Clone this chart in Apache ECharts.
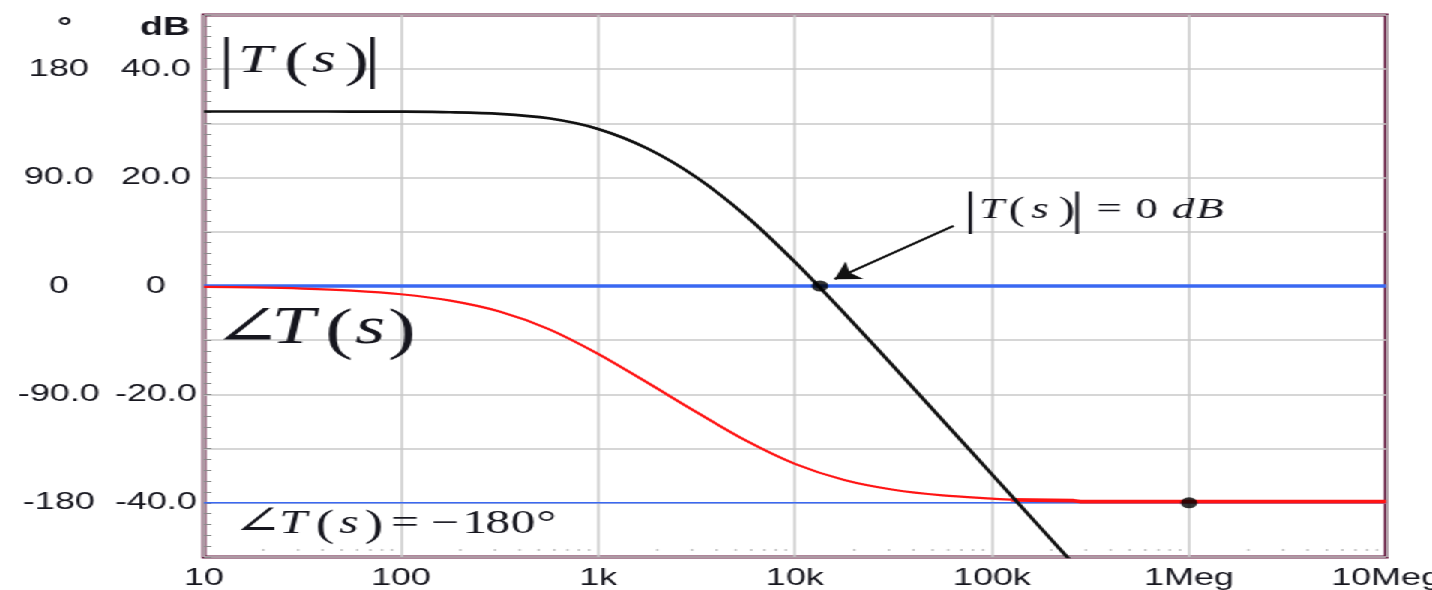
<!DOCTYPE html>
<html>
<head>
<meta charset="utf-8">
<script src="https://cdn.jsdelivr.net/npm/echarts@6/dist/echarts.min.js"></script>
<style>
html,body{margin:0;padding:0;background:#fff;overflow:hidden;width:1432px;height:590px}
#main{width:955px;height:590px;transform-origin:0 0}
</style>
</head>
<body>
<div id="main"></div>
<script>
// ---------------- data ----------------
const freqHz = [10,17.8,31.6,56.2,100,178,316,562,1000,1780,3160,5620,10000,17800,31600,56200,100000,178000,316000];
const magnitudeDb = [32.2,32.2,32.2,32.19,32.16,32.06,31.77,30.94,28.98,25.37,20.05,12.99,4.42,-5.03,-14.82,-24.76,-34.75,-44.76,-54.73];

const phaseFreqHz = [10,17.8,31.6,56.2,100,178,316,562,1000,1780,3160,5620,10000,17800,31600,56200,100000,125000];
const phaseDeg = [-0.69,-1.22,-2.17,-3.86,-6.86,-12.13,-21.15,-35.75,-56.31,-80.27,-104.73,-128.25,-147.72,-161.09,-169.19,-173.9,-176.57,-177.4];

const phaseTailFreqHz = [125000,260000,280000,10000000];
const phaseTailDeg = [-177.6,-178.2,-179.0,-179.0];

const refLevelDb = [0];
const refLevelDeg = [-180];

const crossingPoint = [13400, 0];      // |T(s)| = 0 dB
const phaseMarker = [1000000, -180];   // phase marker
const arrowFrom = [63800, 11.1];       // annotation arrow (Hz, dB)
const arrowTo = [15900, 1.26];

const xTickValues = [10,100,1000,10000,100000,1000000,10000000];
const xTickLabels = ['10','100','1k','10k','100k','1Meg','10Meg'];
const dbTickValues = [-40,-20,0,20,40];
const dbTickLabels = ['-40.0','-20.0','0','20.0','40.0'];
const phaseTickValues = [-180,-90,0,90,180];
const phaseTickLabels = ['-180','-90.0','0','90.0','180'];
const minorMultipliers = [2,3,4,5,6,7,8,9];

// ---------------- layout ----------------
const INNER_W = 955;
const S = 1432 / INNER_W;           // horizontal stretch of the reference
const px = v => v / S;               // reference x -> inner x
const el = document.getElementById('main');
el.style.transform = 'scaleX(' + S + ')';
const chart = echarts.init(el, null, {renderer: 'canvas', width: INNER_W, height: 590});

const labelFont = '"Liberation Sans", Arial, sans-serif';
const mathFont = '"Liberation Serif", "DejaVu Serif", serif';
const textColor = '#16161e';
const gridColor = '#c9c9c9';
const blue = '#3a68f2';

const axisLeft = px(204);

function pick(values, labels) {
  return function (v) {
    for (let i = 0; i < values.length; i++) {
      if (Math.abs(values[i] - v) < 1e-6 * Math.max(1, Math.abs(v))) return labels[i];
    }
    return '';
  };
}
const zip = (a, b) => a.map((v, i) => [v, b[i]]);

const minorDots = [];
xTickValues.slice(0, -1).forEach(d => minorMultipliers.forEach(m => minorDots.push([d * m, -48.7])));

// math annotation glyphs: [text, refX, middleY, fontSize, italic]
const glyphs = [
  ['|', 226.7, 62, 56, false], ['T', 255, 61, 41, true], ['(', 296, 63, 48, false],
  ['s', 324, 61, 41, true], [')', 357, 63, 48, false], ['|', 372.5, 62, 56, false],

  ['\u2220', 247, 330, 56, false], ['T', 293, 329, 52, true], ['(', 339, 333, 56, false],
  ['s', 370, 329, 52, true], [')', 402, 333, 56, false],

  ['|', 970.5, 212, 46, false], ['T', 991.7, 210, 30, true], ['(', 1016.7, 211, 33, false],
  ['s', 1040, 210, 30, true], [')', 1066.7, 211, 33, false], ['|', 1077, 212, 46, false],
  ['=', 1109, 210, 30, false], ['0', 1146.7, 210, 30, false], ['d', 1183, 210, 30, true], ['B', 1210, 210, 30, true],

  ['\u2220', 257.5, 523, 40, false], ['T', 293, 524, 33, true], ['(', 325, 526, 37, false],
  ['s', 349, 524, 33, true], [')', 374, 526, 37, false], ['=', 405, 524, 33, false],
  ['\u2212', 445, 524, 33, false], ['1', 475, 524, 33, false], ['8', 498, 524, 33, false],
  ['0', 523, 524, 33, false], ['\u00B0', 546.5, 524, 33, false]
];

const graphicEls = glyphs.map(g => ({
  type: 'text', silent: true, z: 50,
  x: px(g[1]), y: g[2],
  style: {
    text: g[0], fill: textColor,
    font: (g[4] ? 'italic ' : '') + g[3] + 'px ' + mathFont,
    textAlign: 'center', textVerticalAlign: 'middle'
  }
}));

const option = {
  animation: false,
  backgroundColor: '#ffffff',
  grid: {
    left: axisLeft, right: INNER_W - px(1386), top: 15, bottom: 33,
    containLabel: false, outerBoundsMode: 'none',
    show: true, borderColor: '#5e0f37', borderWidth: 3, backgroundColor: 'transparent'
  },
  xAxis: {
    type: 'log', logBase: 10, min: 10, max: 10000000,
    axisLine: {show: false}, axisTick: {show: false},
    splitLine: {show: true, lineStyle: {color: gridColor, width: 1.5}},
    axisLabel: {
      formatter: pick(xTickValues, xTickLabels),
      fontFamily: labelFont, fontSize: 24, color: textColor, margin: 9,
      showMinLabel: true, showMaxLabel: true
    }
  },
  yAxis: [
    {
      type: 'value', min: -50, max: 50, interval: 10, position: 'left',
      name: 'dB', nameLocation: 'end', nameGap: -13,
      nameTextStyle: {
        fontFamily: labelFont, fontSize: 25, fontWeight: 'bold', color: textColor,
        align: 'center', verticalAlign: 'middle', padding: [0, 2 * (axisLeft - px(165)), 0, 0]
      },
      axisLine: {show: false},
      axisTick: {show: true, inside: true, length: 5, lineStyle: {color: '#8a8a8a', width: 1}},
      minorTick: {show: true, splitNumber: 5, length: 5, lineStyle: {color: '#8a8a8a', width: 1}},
      splitLine: {show: true, lineStyle: {color: gridColor, width: 1.5}},
      axisLabel: {
        formatter: pick(dbTickValues, dbTickLabels),
        fontFamily: labelFont, fontSize: 24, color: textColor,
        align: 'center', margin: axisLeft - px(156)
      }
    },
    {
      type: 'value', min: -225, max: 225, interval: 45, position: 'left', offset: 0,
      name: '\u00B0', nameLocation: 'end', nameGap: -13,
      nameTextStyle: {
        fontFamily: labelFont, fontSize: 25, fontWeight: 'bold', color: textColor,
        align: 'center', verticalAlign: 'middle', padding: [0, 2 * (axisLeft - px(65)), 0, 0]
      },
      axisLine: {show: false}, axisTick: {show: false}, splitLine: {show: false},
      axisLabel: {
        formatter: pick(phaseTickValues, phaseTickLabels),
        fontFamily: labelFont, fontSize: 24, color: textColor,
        align: 'center', margin: axisLeft - px(59)
      }
    }
  ],
  graphic: graphicEls,
  series: [
    {
      name: 'minor', type: 'scatter', yAxisIndex: 0, silent: true, z: 1,
      symbol: 'rect', symbolSize: [1.5, 2], itemStyle: {color: '#b0b0b0'},
      data: minorDots
    },
    {
      name: 'ref0', type: 'line', yAxisIndex: 0, silent: true, z: 2, symbol: 'none',
      lineStyle: {color: blue, width: 3.5},
      data: [[xTickValues[0], refLevelDb[0]], [xTickValues[xTickValues.length - 1], refLevelDb[0]]]
    },
    {
      name: 'ref180', type: 'line', yAxisIndex: 1, silent: true, z: 2, symbol: 'none',
      lineStyle: {color: blue, width: 1.6},
      data: [[xTickValues[0], refLevelDeg[0]], [xTickValues[xTickValues.length - 1], refLevelDeg[0]]]
    },
    {
      name: 'phase', type: 'line', yAxisIndex: 1, silent: true, z: 3, symbol: 'none',
      smooth: 0.3, lineStyle: {color: '#ff1414', width: 2.2},
      data: zip(phaseFreqHz, phaseDeg)
    },
    {
      name: 'phaseTail', type: 'line', yAxisIndex: 1, silent: true, z: 3, symbol: 'none',
      lineStyle: {color: '#ff1414', width: 3.6},
      data: zip(phaseTailFreqHz, phaseTailDeg)
    },
    {
      name: 'magnitude', type: 'line', yAxisIndex: 0, silent: true, z: 4, symbol: 'none',
      smooth: 0.3, lineStyle: {color: '#111111', width: 2.7},
      data: zip(freqHz, magnitudeDb)
    },
    {
      name: 'arrow', type: 'lines', coordinateSystem: 'cartesian2d', yAxisIndex: 0,
      silent: true, z: 7,
      symbol: ['none', 'arrow'], symbolSize: 16,
      lineStyle: {color: '#111111', width: 2, opacity: 1, curveness: 0},
      data: [{coords: [arrowFrom, arrowTo]}]
    },
    {
      name: 'crossing', type: 'scatter', yAxisIndex: 0, silent: true, z: 6,
      symbol: 'circle', symbolSize: 11, itemStyle: {color: '#000'},
      data: [crossingPoint]
    },
    {
      name: 'phaseMarker', type: 'scatter', yAxisIndex: 1, silent: true, z: 6,
      symbol: 'circle', symbolSize: 11, itemStyle: {color: '#000'},
      data: [phaseMarker]
    }
  ]
};
chart.setOption(option);
</script>
</body>
</html>
